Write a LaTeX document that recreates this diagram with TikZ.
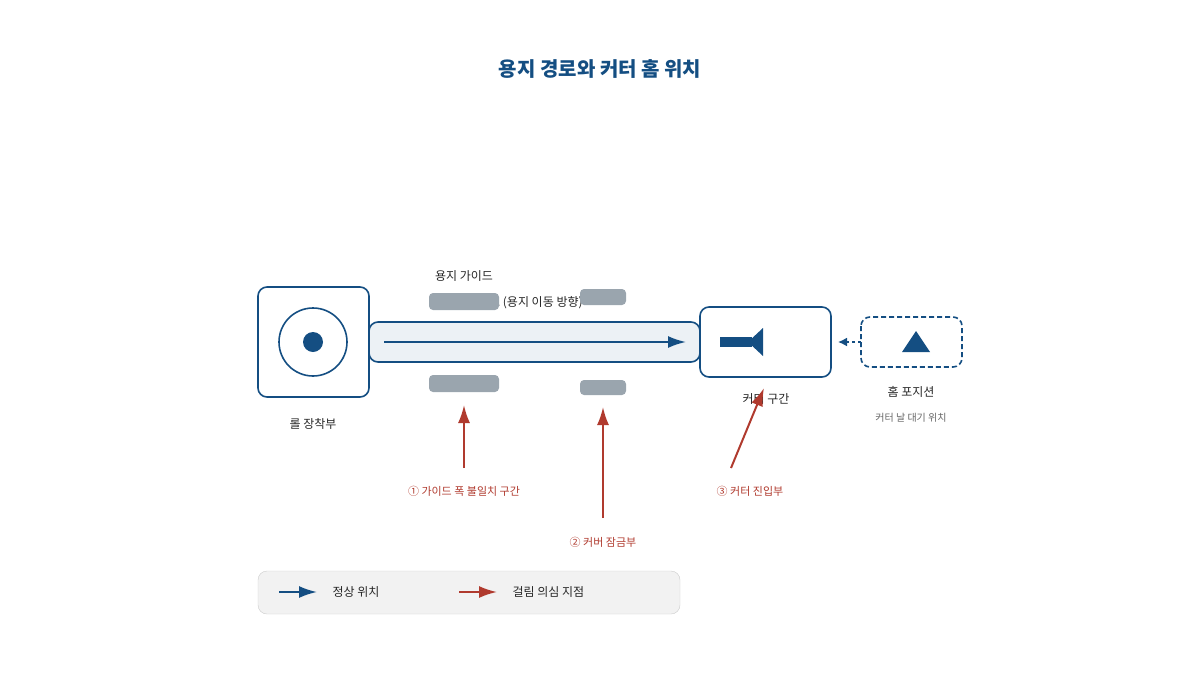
\documentclass[tikz,border=0pt]{standalone}
\usepackage{fontspec}
\setmainfont{Noto Sans CJK KR}
\usetikzlibrary{arrows.meta}
\definecolor{bl}{HTML}{144E82}
\definecolor{rd}{HTML}{B03A2E}
\definecolor{gr}{HTML}{9AA5AE}
\begin{document}
\begin{tikzpicture}[x=1pt,y=-1pt,
 box/.style={draw=bl,line width=1.6pt,rounded corners=9pt},
 lab/.style={font=\fontsize{12}{14}\selectfont,text=black!85},
 rlab/.style={font=\fontsize{11}{13}\selectfont,text=rd},
 rarr/.style={draw=rd,line width=2pt,-{Latex[length=18pt,width=12pt]}},
 barr/.style={draw=bl,line width=2pt,-{Latex[length=18pt,width=12pt]}},
 gbar/.style={fill=gr,rounded corners=4pt}]
\useasboundingbox (0,0) rectangle (1200,675);
\node[font=\bfseries\fontsize{20}{24}\selectfont,text=bl] (title) at (600,69) {용지 경로와 커터 홈 위치};
% roll
\draw[box] (258,287) rectangle (369,397);
\node[draw=bl,line width=1.6pt,circle,minimum size=68pt,inner sep=0] (roll) at (313,342) {};
\fill[bl] (313,342) circle (10);
\node[lab] (rolll) at (313,424) {롤 장착부};
% path
\draw[box,fill=bl!8] (369,322) rectangle (700,362);
\coordinate (ps) at (384,342); \coordinate (pe) at (686,342);
\draw[draw=bl,line width=2pt,-{Latex[length=18pt,width=12pt]}] (ps) -- (pe);
\node[lab] (guide) at (464,276) {용지 가이드};
\node[lab] (pathl) at (518,303) {용지 경로 (용지 이동 방향)};
\fill[gbar] (429,293) rectangle (499,310);
\fill[gbar] (580,289) rectangle (626,305);
\fill[gbar] (429,375) rectangle (499,392);
\fill[gbar] (580,380) rectangle (626,395);
% cutter
\draw[box] (700,307) rectangle (831,377);
\fill[bl] (720,337) rectangle (752,347);
\fill[bl] (748,342) -- (763,328) -- (763,356) -- cycle;
\node[lab] (cutl) at (766,399) {커터 구간};
% home
\draw[box,dashed,dash pattern=on 5pt off 3pt] (861,317) rectangle (962,367);
\fill[bl] (916,331) -- (902,352) -- (930,352) -- cycle;
\coordinate (hs) at (861,342); \coordinate (he) at (838,342);
\draw[draw=bl,line width=1.6pt,dashed,-{Latex[length=9pt,width=9pt]}] (hs) -- (he);
\node[lab] (homel) at (911,392) {홈 포지션};
\node[font=\fontsize{10}{12}\selectfont,text=black!60] (homes) at (911,418) {커터 날 대기 위치};
% red
\node[rlab] (r1) at (464,491) {① 가이드 폭 불일치 구간};
\node[rlab] (r2) at (603,542) {② 커버 잠금부};
\node[rlab] (r3) at (750,491) {③ 커터 진입부};
\coordinate (a1s) at (464,468); \coordinate (a1e) at (464,405);
\coordinate (a2s) at (603,518); \coordinate (a2e) at (603,407);
\coordinate (a3s) at (731,468); \coordinate (a3e) at (764,388);
\draw[rarr] (a1s) -- (a1e);
\draw[rarr] (a2s) -- (a2e);
\draw[rarr] (a3s) -- (a3e);
% legend
\draw[draw=black!20,fill=black!5,rounded corners=9pt] (258,571) rectangle (680,614);
\coordinate (l1s) at (279,592); \coordinate (l1e) at (317,592);
\coordinate (l2s) at (459,592); \coordinate (l2e) at (497,592);
\draw[barr] (l1s) -- (l1e);
\draw[rarr] (l2s) -- (l2e);
\node[lab,anchor=west] (lg1) at (329,592) {정상 위치};
\node[lab,anchor=west] (lg2) at (509,592) {걸림 의심 지점};
\end{tikzpicture}
\end{document}
